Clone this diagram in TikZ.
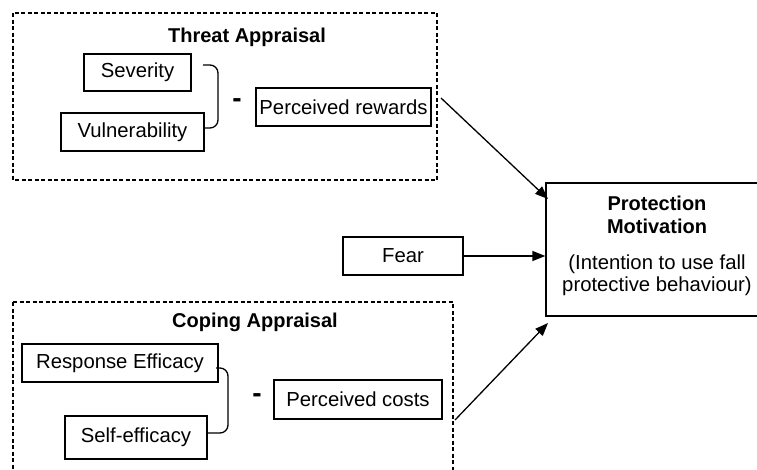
\documentclass[tikz,border=0pt]{standalone}
\usepackage{fontspec}
\setmainfont{Liberation Sans}
\usetikzlibrary{arrows.meta}
\begin{document}
\begin{tikzpicture}[x=1pt,y=-1pt,
  box/.style={draw,line width=1.3pt,inner sep=0pt,font=\fontsize{20.3}{23}\selectfont},
  group/.style={draw,line width=1.5pt,dash pattern=on 4pt off 2.5pt},
  title/.style={font=\fontsize{20}{23}\selectfont\bfseries,inner sep=0pt},
  txt/.style={font=\fontsize{20.3}{22.5}\selectfont,inner sep=0pt},
  minus/.style={font=\fontsize{28}{28}\selectfont\bfseries,inner sep=0pt},
  arr/.style={line width=1.3pt,-{Triangle[length=13pt,width=10pt]}},
  brace/.style={line width=1.3pt,rounded corners=8pt}]
\useasboundingbox (0,0) rectangle (757,469);
% groups
\draw[group] (13,13) rectangle (437,180);
\draw[group] (13,302) -- (13,480) (13,302) -- (453,302) -- (453,480);
\node[title] (tta) at (247,37) {Threat Appraisal};
\node[title] (tca) at (255,322) {Coping Appraisal};
% threat
\node[box,minimum width=107pt,minimum height=37pt] (sev) at (137.5,72.5) {Severity};
\node[box,minimum width=143pt,minimum height=38pt] (vul) at (132.5,132) {Vulnerability};
\node[box,minimum width=175pt,minimum height=38pt] (rew) at (343.5,107) {Perceived rewards};
\draw[brace] (203,65) -- (218,65) -- (218,128) -- (vul.east |- 0,128);
\node[minus] (m1) at (237,103) {-};
% coping
\node[box,minimum width=196pt,minimum height=38pt] (resp) at (120,363) {Response Efficacy};
\node[box,minimum width=142pt,minimum height=43pt] (self) at (136,437.5) {Self-efficacy};
\node[box,minimum width=168pt,minimum height=39pt] (cost) at (358,399.5) {Perceived costs};
\draw[brace] (216,368) -- (228,368) -- (228,433) -- (self.east |- 0,433);
\node[minus] (m2) at (257,398) {-};
% fear and protection
\node[box,minimum width=120pt,minimum height=38pt] (fear) at (403,256) {Fear};
\node[box,minimum width=222pt,minimum height=133pt] (prot) at (657,249.5) {};
\node[title,align=center] (pt) at (657,214.5) {Protection\\Motivation};
\node[txt,align=center] (ps) at (657,275) {(Intention to use fall\\protective behaviour)};
% arrows
\coordinate (a1) at (441,98);
\coordinate (b1) at (548,199);
\coordinate (a3) at (455,420);
\coordinate (b3) at (548,323);
\draw[arr] (a1) -- (b1);
\draw[arr] (fear.east) -- (prot.west |- fear.east);
\draw[arr] (a3) -- (b3);
\end{tikzpicture}
\end{document}
